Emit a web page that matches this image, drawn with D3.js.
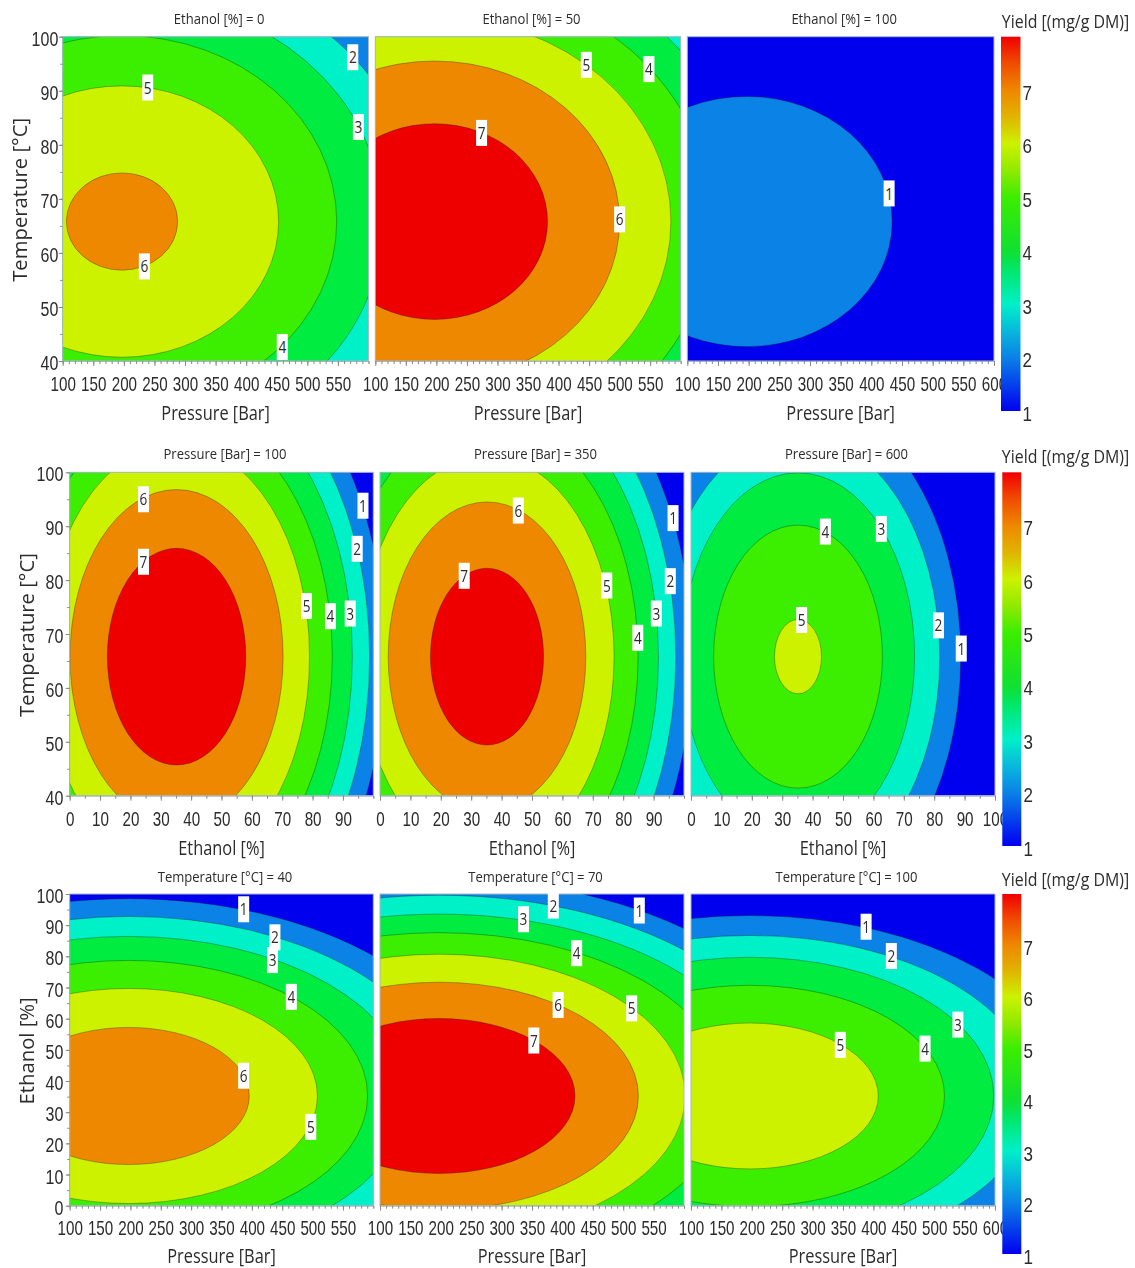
<!DOCTYPE html>
<html><head><meta charset="utf-8">
<script src="https://cdn.jsdelivr.net/npm/d3@7"></script>
<style>
html,body{margin:0;padding:0;background:#fff;overflow:hidden}
svg{display:block;font-family:"Open Sans","Noto Sans",sans-serif;filter:blur(0.35px)}
text{fill:#2b2b2b}
</style></head><body><svg id="c" width="1135" height="1268"></svg>
<script>
// ---------- data ----------
const bandColors = ["#0000ee","#0a82e6","#00f0c8","#00ec40","#3cee00","#ccf200","#ee8800","#ee0000"]; // index = level whose contour encloses the band
const pressureTicks = [100,150,200,250,300,350,400,450,500,550,600];
const ethanolTicks  = [0,10,20,30,40,50,60,70,80,90,100];
const temperatureTicks = [40,50,60,70,80,90,100];
const yieldTicks = [1,2,3,4,5,6,7];
const colorbarValues = [1,2,2.5,3,3.6,4,5,5.5,6,6.5,7,7.5,8];
const colorbarColors = ["#0000f0","#0a82e6","#08b8dc","#00f0c8","#00e870","#10e030","#3cee00","#90ea00","#ccf200","#e0b400","#ee8800","#f04c00","#f00000"];
const pressureCentre = 197, temperatureCentre = 65.8, ethanolCentre = 35.2;

// [level, half-width, half-height] of each closed contour, in axis units
const ethanol0Contours   = [[2,490,47.8],[3,427,41.8],[4,351,34.4],[5,256,25.1],[6,91,9]];
const ethanol50Contours  = [[3,516,50.6],[4,455,44.8],[5,387,37.8],[6,303,29.7],[7,185,18.1]];
const ethanol100Contours = [[1,237,23.15]];
const pressure100Contours = [[1,68.7,61.9],[2,63.6,56.7],[3,57.9,51.6],[4,51.3,45.5],[5,43.8,39.5],[6,35.1,31],[7,22.8,20.1]];
const pressure350Contours = [[1,67.5,60.5],[2,62.1,55.7],[3,56.4,50.4],[4,49.7,44.2],[5,41.8,37.3],[6,32.5,28.7],[7,18.6,16.4]];
const pressure600Contours = [[1,53.55,47.6],[2,46.65,41.3],[3,38.35,34.1],[4,27.75,24.4],[5,7.73,6.9]];
const temp40Contours  = [[1,573,63.3],[2,521,57.6],[3,462,51.2],[4,393.7,43.5],[5,311,34.5],[6,198.8,22]];
const temp70Contours  = [[1,630,69.9],[2,586,64.4],[3,539,58.35],[4,474,52.4],[5,405,45.5],[6,328,36.5],[7,223.7,24.85]];
const temp100Contours = [[1,529,57.9],[2,467.5,51.5],[3,401,44.5],[4,320,35.5],[5,211,23.4]];

// [level, x, y] of each white contour label, in axis units
const ethanol0Labels   = [[2,574.3,96.2],[3,583.5,83.3],[5,239,90.6],[6,233.5,57.5],[4,459,42.6]];
const ethanol50Labels  = [[5,445.5,94.8],[4,548,94],[7,274,82.2],[6,500,66.2]];
const ethanol100Labels = [[1,429,71]];
const pressure100Labels = [[6,24.3,95],[7,24.3,83.4],[1,96.6,93.8],[2,94.7,85.8],[5,78,75.2],[4,85.9,73.3],[3,92.4,73.8]];
const pressure350Labels = [[1,96.4,91.5],[2,95.5,79.8],[3,90.9,73.8],[4,84.8,69.3],[5,74.6,79],[6,45.5,92.9],[7,27.7,80.8]];
const pressure600Labels = [[1,88.9,67.3],[2,81.4,71.6],[3,62.6,89.5],[4,44.2,89],[5,36.4,72.6]];
const temp40Labels  = [[1,386.5,95.1],[2,438,86.1],[3,434,78.8],[4,465,67],[5,497,25.3],[6,386.5,41.7]];
const temp70Labels  = [[1,526.5,94.7],[2,385,96.3],[3,336,91.9],[4,423.5,81],[5,514,63.3],[6,393,64.4],[7,353,53]];
const temp100Labels = [[1,388,89.5],[2,429.5,80.1],[3,539,58.1],[4,485,50.4],[5,345.6,51.6]];

const rowTitles = [
  ["Ethanol [%] = 0","Ethanol [%] = 50","Ethanol [%] = 100"],
  ["Pressure [Bar] = 100","Pressure [Bar] = 350","Pressure [Bar] = 600"],
  ["Temperature [°C] = 40","Temperature [°C] = 70","Temperature [°C] = 100"]
];
const legendTitle = "Yield [(mg/g DM)]";

// ---------- layout ----------
const colsTop = [[62.7,368.5],[375.3,680.7],[687.3,994]];
const colsLow = [[69.7,373.3],[380,684],[691,995]];
const pressureAxis = {name:"Pressure [Bar]",domain:[100,600],ticks:pressureTicks,minor:10,centre:pressureCentre};
const ethanolAxis  = {name:"Ethanol [%]",domain:[0,100],ticks:ethanolTicks,minor:5,centre:ethanolCentre};
const tempAxis     = {name:"Temperature [°C]",domain:[40,100],ticks:temperatureTicks,minor:5,centre:temperatureCentre};

const rows = [
 {top:36.7,bottom:361,cols:colsTop,xA:pressureAxis,yA:tempAxis,titleY:18,xLabY:384,xTitleY:412,yTitleX:20,yTickX:-5.5,
  cb:[1002,1020.5,411],cbTitleY:21,
  cont:[ethanol0Contours,ethanol50Contours,ethanol100Contours],lab:[ethanol0Labels,ethanol50Labels,ethanol100Labels]},
 {top:472.3,bottom:795.7,cols:colsLow,xA:ethanolAxis,yA:tempAxis,titleY:453,xLabY:819,xTitleY:847,yTitleX:27,yTickX:-8,
  cb:[1003.3,1021.3,846],cbTitleY:456,
  cont:[pressure100Contours,pressure350Contours,pressure600Contours],lab:[pressure100Labels,pressure350Labels,pressure600Labels]},
 {top:894,bottom:1205.7,cols:colsLow,xA:pressureAxis,yA:ethanolAxis,titleY:876,xLabY:1228,xTitleY:1255,yTitleX:27,yTickX:-8,
  cb:[1003.3,1021.3,1254],cbTitleY:879,
  cont:[temp40Contours,temp70Contours,temp100Contours],lab:[temp40Labels,temp70Labels,temp100Labels]}
];

const svg = d3.select("#c");
const defs = svg.append("defs");
const grad = defs.append("linearGradient").attr("id","cbg").attr("x1",0).attr("y1",1).attr("x2",0).attr("y2",0);
const off = d3.scaleLinear().domain([1,8]).range([0,1]);
grad.selectAll("stop").data(colorbarValues).join("stop")
  .attr("offset",d=>off(d)).attr("stop-color",(d,i)=>colorbarColors[i]);

const TICK_SX = 0.76;
function squeezed(sel,x,y,t,size,sx,rot){
  const g = sel.append("text").attr("text-anchor","middle").attr("dominant-baseline","central")
    .attr("font-size",size).text(t);
  g.attr("transform",`translate(${x},${y})${rot?` rotate(${rot})`:""} scale(${sx},1)`);
  return g;
}

rows.forEach((r,ri)=>{
  r.cols.forEach((c,ci)=>{
    const x = d3.scaleLinear().domain(r.xA.domain).range(c);
    const y = d3.scaleLinear().domain(r.yA.domain).range([r.bottom,r.top]);
    const id = `clip${ri}${ci}`;
    defs.append("clipPath").attr("id",id).append("rect")
      .attr("x",c[0]).attr("y",r.top).attr("width",c[1]-c[0]).attr("height",r.bottom-r.top);
    const g = svg.append("g");
    const conts = r.cont[ci];
    g.append("rect").attr("x",c[0]).attr("y",r.top).attr("width",c[1]-c[0]).attr("height",r.bottom-r.top)
      .attr("fill",bandColors[conts[0][0]-1]);
    g.append("g").attr("clip-path",`url(#${id})`).selectAll("ellipse").data(conts).join("ellipse")
      .attr("cx",x(r.xA.centre)).attr("cy",y(r.yA.centre))
      .attr("rx",d=>x(r.xA.centre+d[1])-x(r.xA.centre))
      .attr("ry",d=>y(r.yA.centre)-y(r.yA.centre+d[2]))
      .attr("fill",d=>bandColors[d[0]])
      .attr("stroke","#000").attr("stroke-opacity",0.28).attr("stroke-width",1);
    g.append("rect").attr("x",c[0]).attr("y",r.top).attr("width",c[1]-c[0]).attr("height",r.bottom-r.top)
      .attr("fill","none").attr("stroke","#a9b8c4").attr("stroke-width",1);

    // contour labels
    const lab = g.selectAll("g.lab").data(r.lab[ci]).join("g").attr("class","lab")
      .attr("transform",d=>`translate(${x(d[1])},${y(d[2])})`);
    lab.append("rect").attr("x",-5.5).attr("y",-13).attr("width",11).attr("height",26).attr("fill","#fff");
    lab.append("text").attr("text-anchor","middle").attr("dominant-baseline","central")
      .attr("font-size",17).attr("transform","scale(0.8,1)").attr("fill","#333").text(d=>d[0]);

    // x axis : the last label only on the right-hand panel
    const xMinor = d3.range(r.xA.domain[0],r.xA.domain[1]+0.01,r.xA.minor);
    const xAx = svg.append("g").attr("transform",`translate(0,${r.bottom})`)
      .call(d3.axisBottom(x).tickValues(xMinor).tickSize(3).tickFormat(""));
    xAx.select(".domain").attr("stroke","#a9b8c4");
    xAx.selectAll("line").attr("stroke","#8a8a8a");
    const xMaj = svg.append("g").attr("transform",`translate(0,${r.bottom})`)
      .call(d3.axisBottom(x).tickValues(ci<2? r.xA.ticks.slice(0,-1):r.xA.ticks).tickSize(5).tickPadding(0));
    xMaj.select(".domain").remove();
    xMaj.selectAll("line").attr("stroke","#8a8a8a");
    xMaj.selectAll("text").attr("font-size",20).attr("font-family","inherit").attr("fill","#2b2b2b")
      .attr("y",r.xLabY-r.bottom).attr("dy",0).attr("dominant-baseline","central")
      .attr("transform",`scale(${TICK_SX},1)`);

    if(ci===0){
      const yMinor = d3.range(r.yA.domain[0],r.yA.domain[1]+0.01,r.yA.minor);
      const yAx = svg.append("g").attr("transform",`translate(${c[0]},0)`)
        .call(d3.axisLeft(y).tickValues(yMinor).tickSize(2.5).tickFormat(""));
      yAx.select(".domain").remove();
      yAx.selectAll("line").attr("stroke","#8a8a8a");
      const yMaj = svg.append("g").attr("transform",`translate(${c[0]},0)`)
        .call(d3.axisLeft(y).tickValues(r.yA.ticks).tickSize(4));
      yMaj.select(".domain").remove();
      yMaj.selectAll("line").attr("stroke","#8a8a8a");
      yMaj.selectAll("text").attr("font-size",20).attr("font-family","inherit").attr("fill","#2b2b2b")
        .attr("x",r.yTickX).attr("dy",0).attr("y",2).attr("dominant-baseline","central")
        .attr("transform",`scale(${TICK_SX+0.04},1)`);
      squeezed(svg,r.yTitleX,(r.top+r.bottom)/2+1,r.yA.name,19.5,1.04,-90);
    }
    squeezed(svg,(c[0]+c[1])/2,r.xTitleY,r.xA.name,19.5,0.84);
    squeezed(svg,(c[0]+c[1])/2+3.5,r.titleY,rowTitles[ri][ci],14.5,0.9);
  });

  // colour bar
  const [x0,x1,yb] = r.cb;
  const cy = d3.scaleLinear().domain([1,8]).range([yb,r.top]);
  svg.append("rect").attr("x",x0-1).attr("y",r.top).attr("width",x1-x0+1).attr("height",yb-r.top).attr("fill","url(#cbg)");
  const cb = svg.append("g").attr("transform",`translate(${x1},0)`)
    .call(d3.axisRight(cy).tickValues(yieldTicks).tickSize(0).tickFormat(d3.format("d")));
  cb.select(".domain").remove();
  cb.selectAll("line").remove();
  cb.selectAll("text").attr("font-size",20).attr("font-family","inherit").attr("fill","#2b2b2b")
    .attr("x",2.5).attr("dy",0).attr("y",2).attr("dominant-baseline","central")
    .attr("text-anchor","start").attr("transform","scale(0.85,1)");
  squeezed(svg,1065.5,r.cbTitleY,legendTitle,18.5,0.86);
});
</script></body></html>
